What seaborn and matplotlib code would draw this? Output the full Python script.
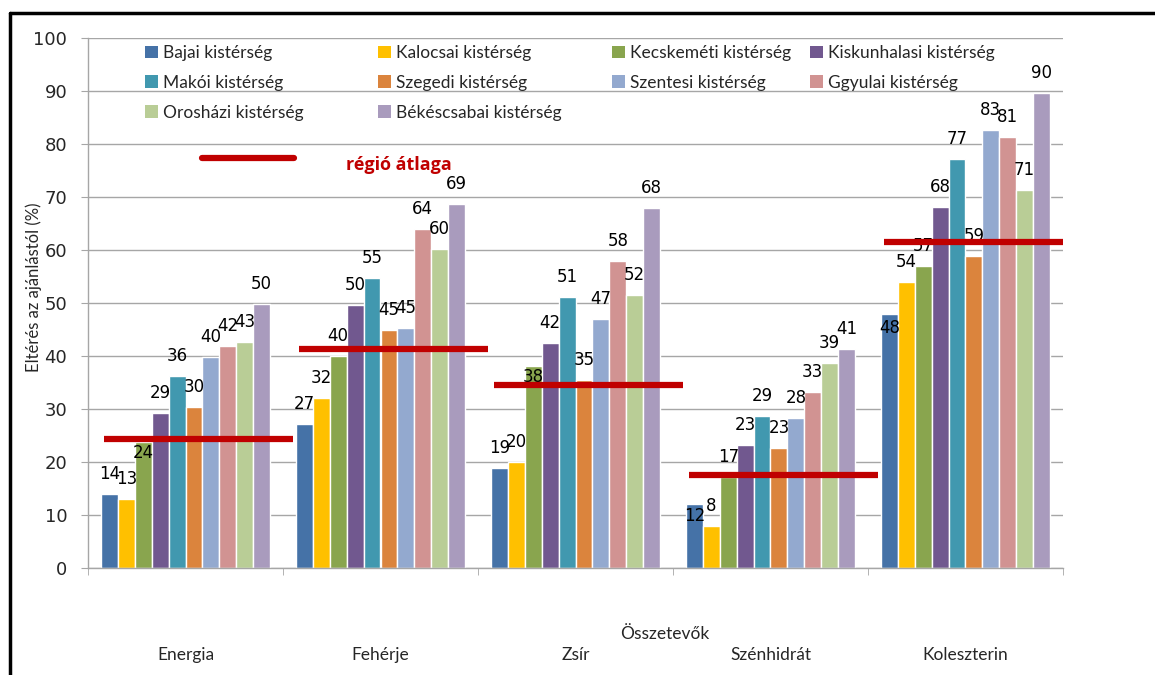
import pandas as pd
import seaborn as sns
import matplotlib.pyplot as plt
from matplotlib.patches import Patch
from matplotlib.lines import Line2D
from matplotlib.legend import Legend

# Data
components = ["Energia", "Fehérje", "Zsír", "Szénhidrát", "Koleszterin"]
regions = [
    "Bajai kistérség", "Kalocsai kistérség", "Kecskeméti kistérség",
    "Kiskunhalasi kistérség", "Makói kistérség", "Szegedi kistérség",
    "Szentesi kistérség", "Ggyulai kistérség", "Orosházi kistérség",
    "Békéscsabai kistérség",
]
bajai = [14.0, 27.2, 18.9, 12.1, 47.9]
kalocsai = [13.0, 32.0, 20.0, 8.0, 54.0]
kecskemeti = [23.8, 40.0, 38.1, 17.2, 57.0]
kiskunhalasi = [29.2, 49.6, 42.4, 23.2, 68.1]
makoi = [36.3, 54.7, 51.2, 28.7, 77.1]
szegedi = [30.3, 44.9, 35.4, 22.6, 58.9]
szentesi = [39.9, 45.2, 46.9, 28.3, 82.7]
gyulai = [41.8, 64.0, 57.9, 33.3, 81.4]
oroshazi = [42.7, 60.2, 51.6, 38.6, 71.3]
bekescsabai = [49.9, 68.7, 67.9, 41.4, 89.7]
region_avg = [24.3, 41.4, 34.5, 17.6, 61.6]

series = [bajai, kalocsai, kecskemeti, kiskunhalasi, makoi,
          szegedi, szentesi, gyulai, oroshazi, bekescsabai]

colors = ["#4572A7", "#FFC000", "#89A54E", "#71588F", "#4198AF",
          "#DB843D", "#93A9CF", "#D19392", "#B9CD96", "#A99BBD"]
AVG_RED = "#C00000"
GRID = "#A6A6A6"

# labels that sit lower than usual in the original (px offset of label centre)
label_nudge = {
    ("Kecskeméti kistérség", "Energia"): -11,
    ("Kecskeméti kistérség", "Zsír"): -11,
    ("Bajai kistérség", "Szénhidrát"): -12,
    ("Bajai kistérség", "Koleszterin"): -14,
}

rows = []
for region, vals in zip(regions, series):
    for comp, v in zip(components, vals):
        rows.append({"component": comp, "region": region, "value": v})
df = pd.DataFrame(rows)

sns.set_style("white")
plt.rcParams["font.family"] = ["Lato", "DejaVu Sans"]

fig = plt.figure(figsize=(11.55, 6.75), dpi=100)
ax = fig.add_axes([88 / 1155, 1 - 568 / 675, 975 / 1155, 530 / 675])

sns.barplot(
    data=df, x="component", y="value", hue="region",
    order=components, hue_order=regions, palette=colors,
    saturation=1, width=0.867, errorbar=None, legend=False, ax=ax,
    zorder=2,
)

ax.set_ylim(0, 100)
ax.set_xlim(-0.5, 4.5)
ax.set_yticks(range(0, 101, 10))
ax.yaxis.grid(True, color=GRID, linewidth=1.0, zorder=0)
ax.set_axisbelow(True)
for side in ["top", "right"]:
    ax.spines[side].set_visible(False)
for side in ["left", "bottom"]:
    ax.spines[side].set_color(GRID)
    ax.spines[side].set_linewidth(1.0)

ax.tick_params(axis="y", left=True, length=5, color=GRID, pad=10,
               labelsize=13, labelfontfamily="DejaVu Sans")
ax.set_xticks(range(len(components)))
ax.set_xticklabels(components, fontsize=12.5)
ax.tick_params(axis="x", which="major", length=0, pad=57)
ax.set_xticks([i - 0.5 for i in range(len(components) + 1)], minor=True)
ax.tick_params(axis="x", which="minor", bottom=True, length=5, color=GRID)

ax.set_xlabel("Összetevők", fontsize=12.5)
ax.xaxis.set_label_coords(0.592, -0.11)
ax.set_ylabel("Eltérés az ajánlástól (%)", fontsize=12)
ax.yaxis.set_label_coords(-0.047, 0.53)

# value labels
for container, region in zip(ax.containers, regions):
    for bar, comp in zip(container, components):
        h = bar.get_height()
        dy = label_nudge.get((region, comp), 20) * 0.72
        ax.annotate(f"{h:.0f}", (bar.get_x() + bar.get_width() / 2, h),
                    xytext=(0, dy), textcoords="offset points",
                    ha="center", va="center", fontsize=12,
                    family="DejaVu Sans", color="black", zorder=3)

# regional average lines
for i, avg in enumerate(region_avg):
    ax.hlines(avg, i - 0.42, i + 0.55, color=AVG_RED, linewidth=4.5, zorder=4)

# legend in four columns
col_x = [145, 378, 612, 810]
handles = [Patch(facecolor=c, edgecolor="none") for c in colors]
for k, x in enumerate(col_x):
    idx = list(range(k, len(regions), 4))
    leg = Legend(ax, [handles[j] for j in idx], [regions[j] for j in idx],
                 loc="upper left",
                 bbox_to_anchor=((x - 88) / 975, (568 - 45) / 530),
                 frameon=False, handlelength=0.75, handleheight=0.75,
                 handletextpad=0.3, borderpad=0, borderaxespad=0,
                 labelspacing=0.8,
                 prop={"family": "Lato", "size": 12.5})
    ax.add_artist(leg)

# annotation for the average line
ax.add_line(Line2D([(202 - 88) / 975, (294 - 88) / 975],
                   [(568 - 158) / 530] * 2, transform=ax.transAxes,
                   color=AVG_RED, linewidth=4.5, clip_on=False))
ax.text((346 - 88) / 975, (568 - 165) / 530, "régió átlaga",
        transform=ax.transAxes, color=AVG_RED, fontsize=13,
        family="Open Sans", fontweight="bold", va="center", ha="left")

# outer frame (top and left edge visible)
fig.add_artist(Line2D([10 / 1155, 1.0], [1 - 13 / 675] * 2,
                      transform=fig.transFigure, color="black", linewidth=2.5))
fig.add_artist(Line2D([10 / 1155] * 2, [0.0, 1 - 13 / 675],
                      transform=fig.transFigure, color="black", linewidth=2.5))

fig.savefig("out.png", dpi=100, facecolor="white")
